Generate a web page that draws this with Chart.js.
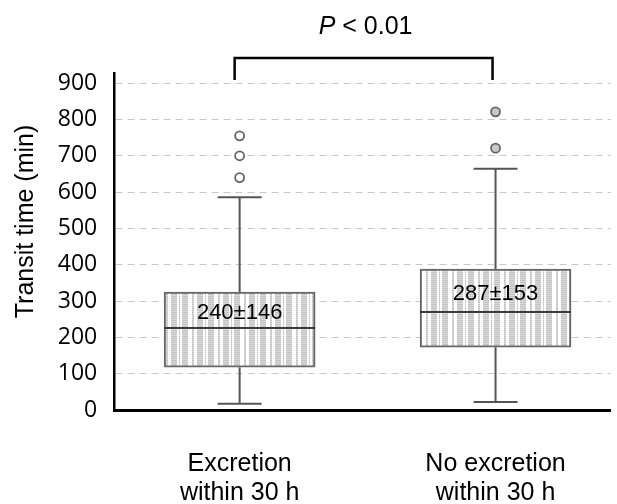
<!DOCTYPE html>
<html>
<head>
<meta charset="utf-8">
<script src="https://cdn.jsdelivr.net/npm/chart.js@4"></script>
<style>
  html, body { margin: 0; padding: 0; background: #fff; }
  canvas { display: block; }
</style>
</head>
<body>
<canvas id="myChart" width="617" height="504"></canvas>
<script>
// groups (x position 1 and 2 on a linear axis)
const groupLabels = [['Excretion', 'within 30 h'], ['No excretion', 'within 30 h']];
const groupX = [1, 2];

// box plot values (min)
const whiskerLow = [17, 22];
const q1 = [118, 173];
const median = [226, 270];
const q3 = [325, 388];
const whiskerHigh = [586, 664];
const outliersA = [640, 700, 755];
const outliersB = [721, 821];

// mean ± SD shown inside the boxes
const means = [240, 287];
const sds = [146, 153];

const yTicks = [0, 100, 200, 300, 400, 500, 600, 700, 800, 900];
const yTitle = 'Transit time (min)';
const pItalic = 'P';
const pRest = ' < 0.01';

// striped fill like the original
function makePattern() {
    const c = document.createElement('canvas');
    c.width = 26; c.height = 2;
    const g = c.getContext('2d');
    g.fillStyle = '#ffffff';
    g.fillRect(0, 0, 26, 2);
    const stripes = [[0, 6], [10, 2], [15, 6], [23, 1]];
    stripes.forEach(([sx, w]) => {
        g.fillStyle = '#c2c2c2';
        g.fillRect(sx, 0, w, 1);
        g.fillStyle = '#dadada';
        g.fillRect(sx, 1, w, 1);
    });
    return g.createPattern(c, 'repeat');
}

const boxExtras = {
    id: 'boxExtras',
    beforeDatasetsDraw(chart) {
        const { ctx, scales: { x, y } } = chart;
        ctx.save();
        ctx.strokeStyle = '#555';
        ctx.lineWidth = 2;
        groupX.forEach((gx, i) => {
            const cx = x.getPixelForValue(gx);
            const yHi = y.getPixelForValue(whiskerHigh[i]);
            const yLo = y.getPixelForValue(whiskerLow[i]);
            ctx.beginPath();
            ctx.moveTo(cx, y.getPixelForValue(q3[i]));
            ctx.lineTo(cx, yHi);
            ctx.moveTo(cx, y.getPixelForValue(q1[i]));
            ctx.lineTo(cx, yLo);
            ctx.moveTo(cx - 22, yHi);
            ctx.lineTo(cx + 22, yHi);
            ctx.moveTo(cx - 22, yLo);
            ctx.lineTo(cx + 22, yLo);
            ctx.stroke();
        });
        ctx.restore();
    },
    afterDatasetsDraw(chart) {
        const { ctx, scales: { x, y }, chartArea } = chart;
        const bars = chart.getDatasetMeta(0).data;
        ctx.save();
        groupX.forEach((gx, i) => {
            const cx = x.getPixelForValue(gx);
            const half = bars[i].width / 2;
            const ym = y.getPixelForValue(median[i]);
            ctx.strokeStyle = '#3a3a3a';
            ctx.lineWidth = 2;
            ctx.beginPath();
            ctx.moveTo(cx - half, ym);
            ctx.lineTo(cx + half, ym);
            ctx.stroke();

            const ty = (ym + y.getPixelForValue(q3[i])) / 2 + 3;
            ctx.fillStyle = '#000';
            ctx.font = '22px "Liberation Sans", Arial, sans-serif';
            ctx.textAlign = 'center';
            ctx.textBaseline = 'middle';
            ctx.fillText(means[i] + '\u00b1' + sds[i], cx, ty);
        });

        // significance bracket
        const x1 = x.getPixelForValue(groupX[0]) - 5;
        const x2 = x.getPixelForValue(groupX[1]) - 3;
        const top = chartArea.top;
        ctx.strokeStyle = '#000';
        ctx.lineWidth = 2.5;
        ctx.beginPath();
        ctx.moveTo(x1, top + 7);
        ctx.lineTo(x1, top - 15);
        ctx.lineTo(x2, top - 15);
        ctx.lineTo(x2, top + 7);
        ctx.stroke();

        ctx.fillStyle = '#000';
        ctx.textBaseline = 'middle';
        ctx.textAlign = 'left';
        ctx.font = 'italic 25px "Liberation Sans", Arial, sans-serif';
        const w1 = ctx.measureText(pItalic).width;
        ctx.font = '25px "Liberation Sans", Arial, sans-serif';
        const w2 = ctx.measureText(pRest).width;
        const sx = (x1 + x2) / 2 + 2 - (w1 + w2) / 2;
        ctx.font = 'italic 25px "Liberation Sans", Arial, sans-serif';
        ctx.fillText(pItalic, sx, 27);
        ctx.font = '25px "Liberation Sans", Arial, sans-serif';
        ctx.fillText(pRest, sx + w1, 27);

        // y title sits a bit above the middle of the axis in the original
        ctx.translate(y.left + 14, (chartArea.top + chartArea.bottom) / 2 - 20);
        ctx.rotate(-Math.PI / 2);
        ctx.textAlign = 'center';
        ctx.font = '25px "Liberation Sans", Arial, sans-serif';
        ctx.fillText(yTitle, 0, 0);
        ctx.restore();
    }
};

const ctx = document.getElementById('myChart').getContext('2d');
const myChart = new Chart(ctx, {
    type: 'bar',
    data: {
        datasets: [{
            type: 'bar',
            data: groupX.map((gx, i) => ({ x: gx, y: [q1[i], q3[i]] })),
            backgroundColor: makePattern(),
            borderColor: '#666',
            borderWidth: 2,
            borderSkipped: false,
            barThickness: 151,
        }, {
            type: 'scatter',
            data: outliersA.map(v => ({ x: groupX[0], y: v }))
                .concat(outliersB.map(v => ({ x: groupX[1], y: v }))),
            pointRadius: 4.5,
            pointBorderWidth: 1.8,
            pointBorderColor: '#666',
            pointBackgroundColor: outliersA.map(() => '#fff').concat(outliersB.map(() => '#c8c8c8')),
        }]
    },
    options: {
        responsive: false,
        animation: false,
        devicePixelRatio: 1,
        // tick padding is counted twice by chart.js when fitting, hence the negative bottom
        layout: { padding: { top: 73, right: 5, left: 12, bottom: -44 } },
        plugins: { legend: { display: false }, tooltip: { enabled: false } },
        scales: {
            x: {
                type: 'linear',
                offset: false,
                min: 0.51,
                max: 2.45,
                afterBuildTicks: axis => { axis.ticks = groupX.map(v => ({ value: v })); },
                ticks: {
                    callback: (v) => groupLabels[groupX.indexOf(v)],
                    color: '#000',
                    font: { family: '"Liberation Sans", Arial, sans-serif', size: 25, lineHeight: 1.16 },
                    padding: 40,
                    maxRotation: 0,
                    autoSkip: false,
                },
                grid: { display: false, drawTicks: false, offset: false },
                border: { display: true, color: '#000', width: 3 },
            },
            y: {
                min: 0,
                max: 928,
                afterBuildTicks: axis => { axis.ticks = yTicks.map(v => ({ value: v })); },
                ticks: {
                    color: '#000',
                    font: { family: '"Open Sans", sans-serif', size: 23 },
                    padding: 17,
                },
                grid: { color: '#c8c8c8', lineWidth: 1, drawTicks: false },
                border: { display: true, color: '#000', width: 2.5, dash: [7, 5] },
                // keeps the room for the title, which is drawn by the plugin
                title: {
                    display: true,
                    text: yTitle,
                    color: 'rgba(0,0,0,0)',
                    font: { family: '"Liberation Sans", Arial, sans-serif', size: 24 },
                    padding: { top: 0, bottom: 0 },
                },
            }
        }
    },
    plugins: [boxExtras]
});
</script>
</body>
</html>
